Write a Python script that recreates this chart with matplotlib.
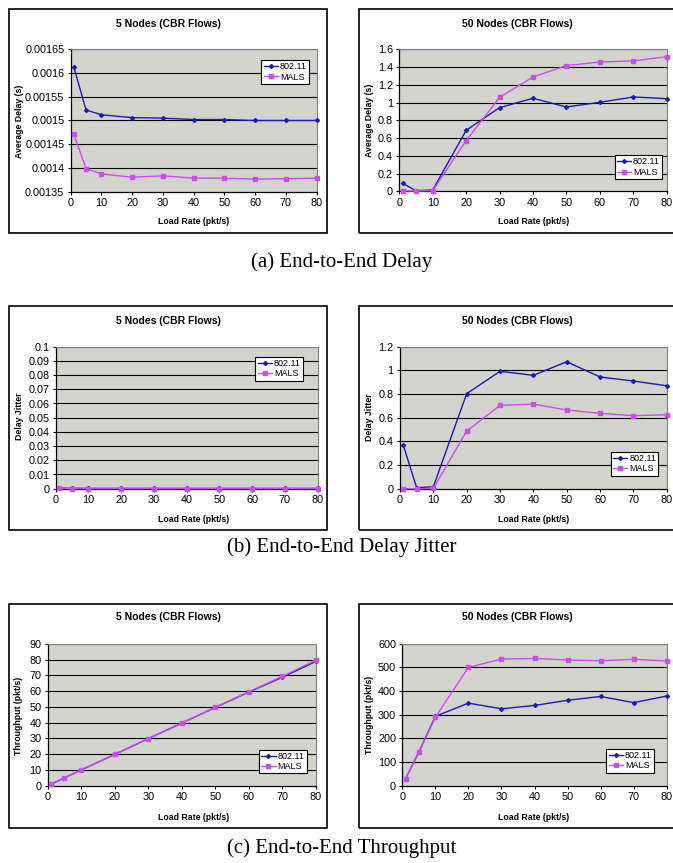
import numpy as np
import matplotlib
matplotlib.use("Agg")
import matplotlib.pyplot as plt
from matplotlib.patches import Rectangle

# Data
load_rate = [1, 5, 10, 20, 30, 40, 50, 60, 70, 80]

delay5_80211 = [0.001612, 0.001522, 0.001512, 0.001506, 0.001505, 0.001502, 0.001502, 0.001500, 0.001500, 0.001500]
delay5_mals = [0.001471, 0.001399, 0.001388, 0.001381, 0.001384, 0.001379, 0.001379, 0.001377, 0.001378, 0.001379]
delay50_80211 = [0.09, 0.007, 0.015, 0.687, 0.943, 1.048, 0.95, 1.003, 1.063, 1.044]
delay50_mals = [0.004, 0.004, 0.007, 0.571, 1.059, 1.288, 1.416, 1.457, 1.469, 1.517]

jitter5_80211 = [0.0004, 0.0003, 0.0002, 0.0002, 0.0002, 0.0002, 0.0002, 0.0002, 0.0002, 0.0002]
jitter5_mals = [0.0002, 0.0001, 0.0001, 0.0001, 0.0001, 0.0001, 0.0001, 0.0001, 0.0001, 0.0001]
jitter50_80211 = [0.366, 0.008, 0.017, 0.803, 0.992, 0.958, 1.073, 0.944, 0.910, 0.870]
jitter50_mals = [0.0, 0.0, 0.003, 0.487, 0.704, 0.715, 0.665, 0.637, 0.617, 0.625]

thr5_80211 = [1.0, 5.0, 10.0, 19.9, 29.9, 39.8, 49.7, 59.5, 68.9, 79.0]
thr5_mals = [1.0, 5.0, 10.0, 20.0, 29.9, 39.8, 49.8, 59.7, 69.5, 79.8]
thr50_80211 = [29.6, 142, 293, 349, 325, 339, 361, 377, 351, 379]
thr50_mals = [30, 142, 289, 500, 535, 538, 531, 528, 534, 527]

series_names = ["802.11", "MALS"]
x_ticks = [0, 10, 20, 30, 40, 50, 60, 70, 80]
captions = ["(a) End-to-End Delay", "(b) End-to-End Delay Jitter", "(c) End-to-End Throughput"]

W, H = 673, 863
BLUE = "#1a1ab8"
PINK = "#cc4ded"
BG = "#d4d4cf"

plt.rcParams["font.family"] = ["Liberation Sans", "DejaVu Sans"]
fig = plt.figure(figsize=(W / 100, H / 100), dpi=100)


def px(x, y):
    """pixel (from top-left) -> figure fraction"""
    return x / W, 1 - y / H


def draw_panel(box, plot, title_xy, xlab_xy, ylab_xy, ylabel, y1, y2, ymin, ymax, ystep, leg):
    # outer chart border
    bx0, by0, bx1, by1 = box
    fig.patches.append(Rectangle(px(bx0, by1), (bx1 - bx0) / W, (by1 - by0) / H,
                                 transform=fig.transFigure, fill=False,
                                 edgecolor="black", linewidth=1.2))
    l, t, r, b = plot
    ax = fig.add_axes([l / W, 1 - b / H, (r - l) / W, (b - t) / H])
    ax.set_facecolor(BG)
    yt = np.round(np.arange(ymin, ymax + ystep / 2, ystep), 8)
    for v in yt[1:]:
        ax.axhline(v, color="black", linewidth=0.8, zorder=1)
    ax.plot(load_rate, y1, color=BLUE, marker="D", markersize=2.0, linewidth=1.0,
            label=series_names[0], zorder=3, clip_on=False)
    ax.plot(load_rate, y2, color=PINK, marker="s", markersize=2.4, linewidth=1.0,
            label=series_names[1], zorder=3, clip_on=False)
    ax.set_xlim(0, 80)
    ax.set_ylim(ymin, ymax)
    ax.set_xticks(x_ticks)
    ax.set_yticks(yt)
    ax.set_yticklabels([f"{v:g}" for v in yt])
    ax.tick_params(labelsize=7.8, length=2.5, width=0.8, pad=2, direction="out")
    for s in ["left", "bottom"]:
        ax.spines[s].set_color("black")
        ax.spines[s].set_linewidth(0.9)
    for s in ["top", "right"]:
        ax.spines[s].set_color("#808080")
        ax.spines[s].set_linewidth(0.8)
    fig.text(*px(*title_xy), "5 Nodes (CBR Flows)" if l < 300 else "50 Nodes (CBR Flows)",
             ha="center", va="center", fontsize=7.5, fontweight="bold")
    fig.text(*px(*xlab_xy), "Load Rate (pkt/s)", ha="center", va="center",
             fontsize=6.3, fontweight="bold")
    fig.text(*px(*ylab_xy), ylabel, ha="center", va="center", rotation=90,
             fontsize=6.3, fontweight="bold")
    loc, anchor = leg
    lg = ax.legend(loc=loc, bbox_to_anchor=anchor, borderaxespad=0, fontsize=6.5,
                   frameon=True, fancybox=False, handlelength=1.6, handletextpad=0.2,
                   borderpad=0.25, labelspacing=0.15)
    lg.get_frame().set_edgecolor("black")
    lg.get_frame().set_linewidth(0.8)
    lg.get_frame().set_facecolor("white")
    lg.get_frame().set_alpha(1)
    return ax


# row (a)
draw_panel((9, 9, 327, 233), (70.7, 49, 316.7, 192), (168, 24), (194, 222), (20, 121),
           "Average Delay (s)", delay5_80211, delay5_mals, 0.00135, 0.00165, 0.00005,
           ("upper right", (0.969, 0.923)))
draw_panel((359, 9, 690, 233), (399.3, 49.3, 666.7, 191.3), (517, 24), (534, 222), (369, 120),
           "Average Delay (s)", delay50_80211, delay50_mals, 0, 1.6, 0.2,
           ("lower right", (0.983, 0.087)))
# row (b)
draw_panel((9, 306, 327, 530), (55.7, 346.7, 317.7, 488.7), (168, 321), (194, 520), (19, 416),
           "Delay Jitter", jitter5_80211, jitter5_mals, 0, 0.1, 0.01,
           ("upper right", (0.944, 0.93)))
draw_panel((359, 306, 690, 530), (400, 346.7, 666.7, 488.7), (517, 321), (534, 520), (369, 417),
           "Delay Jitter", jitter50_80211, jitter50_mals, 0, 1.2, 0.2,
           ("lower right", (0.969, 0.092)))
# row (c)
draw_panel((9, 604, 327, 828), (47.7, 644, 316, 785.7), (168, 617), (194, 817), (19, 716),
           "Throughput (pkt/s)", thr5_80211, thr5_mals, 0, 90, 10,
           ("lower right", (0.965, 0.087)))
draw_panel((359, 604, 690, 828), (402.3, 643.7, 666.7, 785.7), (517, 617), (534, 817), (369, 715),
           "Throughput (pkt/s)", thr50_80211, thr50_mals, 0, 600, 100,
           ("lower right", (0.952, 0.092)))

for cap, cy in zip(captions, [262, 547, 848]):
    fig.text(*px(342, cy), cap, ha="center", va="center", fontsize=15,
             family=["Liberation Serif", "DejaVu Serif"])

fig.savefig("out.png", dpi=100)
